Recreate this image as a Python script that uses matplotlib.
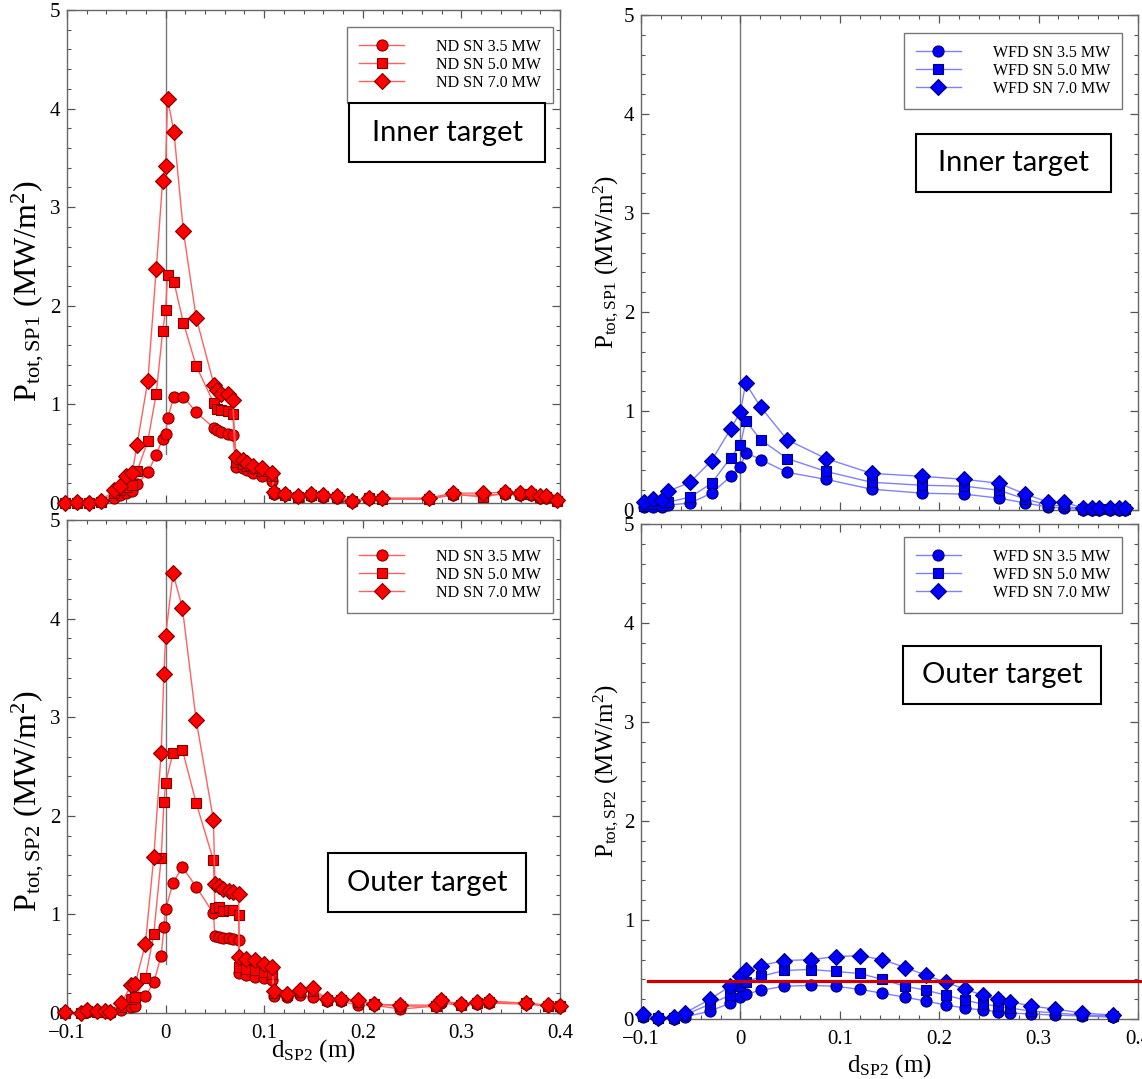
import matplotlib
matplotlib.use("Agg")
import matplotlib.pyplot as plt
from matplotlib.patches import Rectangle
from matplotlib.ticker import MultipleLocator

plt.rcParams['font.family'] = ['Liberation Serif', 'DejaVu Serif']
plt.rcParams['mathtext.fontset'] = 'custom'
plt.rcParams['mathtext.rm'] = 'Liberation Serif'
plt.rcParams['mathtext.it'] = 'Liberation Serif:italic'

# ---------------- data ----------------
# ND SN, inner target
nd_in_x = [-0.102, -0.090, -0.078, -0.066, -0.052, -0.046, -0.040, -0.034, -0.029, -0.018,
           -0.0095, -0.003, 0.0, 0.002, 0.0085, 0.018, 0.031, 0.049, 0.0526, 0.0564,
           0.063, 0.068, 0.0714, 0.078, 0.083, 0.089, 0.098, 0.108, 0.110, 0.121,
           0.134, 0.147, 0.160, 0.174, 0.189, 0.206, 0.219, 0.267, 0.291, 0.322,
           0.344, 0.359, 0.371, 0.380, 0.386, 0.397]
nd_in_35 = [0.00, 0.00, 0.00, 0.01, 0.05, 0.08, 0.10, 0.12, 0.19, 0.31,
            0.49, 0.65, 0.70, 0.86, 1.08, 1.08, 0.92, 0.76, 0.74, 0.72,
            0.70, 0.69, 0.37, 0.35, 0.33, 0.30, 0.27, 0.22, 0.09, 0.08,
            0.06, 0.07, 0.06, 0.05, 0.01, 0.04, 0.04, 0.04, 0.08, 0.08,
            0.09, 0.08, 0.08, 0.05, 0.05, 0.02]
nd_in_50 = [0.00, 0.00, 0.00, 0.01, 0.10, 0.13, 0.16, 0.18, 0.32, 0.63,
            1.11, 1.74, 1.96, 2.31, 2.24, 1.83, 1.39, 1.01, 0.95, 0.94,
            0.93, 0.90, 0.42, 0.40, 0.38, 0.35, 0.32, 0.27, 0.10, 0.08,
            0.06, 0.08, 0.07, 0.06, 0.02, 0.05, 0.04, 0.04, 0.09, 0.06,
            0.10, 0.09, 0.09, 0.06, 0.06, 0.02]
nd_in_70 = [0.00, 0.01, 0.00, 0.02, 0.13, 0.17, 0.27, 0.30, 0.59, 1.24,
            2.37, 3.27, 3.42, 4.10, 3.76, 2.76, 1.88, 1.20, 1.15, 1.11,
            1.11, 1.04, 0.47, 0.44, 0.41, 0.38, 0.35, 0.30, 0.11, 0.09,
            0.07, 0.09, 0.08, 0.07, 0.02, 0.05, 0.05, 0.05, 0.10, 0.10,
            0.11, 0.10, 0.10, 0.07, 0.07, 0.03]

# ND SN, outer target
nd_out_x = [-0.102, -0.086, -0.080, -0.070, -0.061, -0.056, -0.045, -0.035, -0.031, -0.0205,
            -0.012, -0.0045, -0.0017, 0.0, 0.0075, 0.017, 0.031, 0.0485, 0.050, 0.0546,
            0.0587, 0.0639, 0.068, 0.074, 0.0748, 0.0816, 0.0905, 0.0997, 0.108, 0.110,
            0.123, 0.136, 0.149, 0.164, 0.178, 0.195, 0.211, 0.238, 0.274, 0.279,
            0.2995, 0.316, 0.3276, 0.366, 0.388, 0.400]
nd_out_35 = [0.00, 0.00, 0.01, 0.01, 0.01, 0.00, 0.03, 0.06, 0.07, 0.17,
             0.31, 0.58, 0.87, 1.05, 1.32, 1.48, 1.28, 1.01, 0.78, 0.77,
             0.76, 0.76, 0.75, 0.74, 0.41, 0.39, 0.37, 0.36, 0.33, 0.17,
             0.16, 0.18, 0.16, 0.12, 0.12, 0.08, 0.08, 0.04, 0.07, 0.10,
             0.08, 0.09, 0.10, 0.09, 0.07, 0.06]
nd_out_50 = [0.00, 0.00, 0.02, 0.01, 0.01, 0.01, 0.06, 0.14, 0.16, 0.35,
             0.80, 1.57, 2.14, 2.33, 2.64, 2.67, 2.13, 1.55, 1.06, 1.07,
             1.03, 1.04, 1.04, 0.99, 0.47, 0.45, 0.44, 0.42, 0.40, 0.20,
             0.18, 0.21, 0.22, 0.13, 0.13, 0.11, 0.09, 0.07, 0.07, 0.12,
             0.08, 0.10, 0.11, 0.10, 0.07, 0.07]
nd_out_70 = [0.01, 0.00, 0.03, 0.02, 0.02, 0.01, 0.10, 0.28, 0.29, 0.70,
             1.58, 2.64, 3.44, 3.82, 4.46, 4.11, 2.97, 1.96, 1.31, 1.29,
             1.26, 1.24, 1.23, 1.21, 0.57, 0.55, 0.54, 0.50, 0.47, 0.22,
             0.19, 0.23, 0.25, 0.14, 0.14, 0.13, 0.09, 0.08, 0.08, 0.13,
             0.09, 0.11, 0.12, 0.10, 0.08, 0.07]

# WFD SN, inner target
wfd_in_x = [-0.097, -0.088, -0.079, -0.0727, -0.0506, -0.029, -0.0097, 0.0, 0.0053, 0.0204,
            0.047, 0.086, 0.132, 0.183, 0.2254, 0.26, 0.2868, 0.3095, 0.3253, 0.345,
            0.354, 0.361, 0.372, 0.381, 0.387]
wfd_in_35 = [0.03, 0.03, 0.03, 0.05, 0.07, 0.17, 0.34, 0.43, 0.58, 0.51,
             0.38, 0.31, 0.21, 0.17, 0.16, 0.12, 0.07, 0.03, 0.02, 0.00,
             0.00, 0.00, 0.00, 0.00, 0.00]
wfd_in_50 = [0.04, 0.06, 0.05, 0.08, 0.13, 0.27, 0.53, 0.66, 0.90, 0.71,
             0.52, 0.39, 0.28, 0.25, 0.24, 0.20, 0.11, 0.05, 0.04, 0.01,
             0.01, 0.01, 0.01, 0.01, 0.01]
wfd_in_70 = [0.08, 0.11, 0.10, 0.19, 0.28, 0.50, 0.82, 0.99, 1.28, 1.04,
             0.71, 0.52, 0.37, 0.34, 0.31, 0.27, 0.16, 0.08, 0.08, 0.02,
             0.02, 0.02, 0.02, 0.02, 0.02]

# WFD SN, outer target
wfd_out_x = [-0.098, -0.083, -0.0673, -0.056, -0.0305, -0.0104, 0.0, 0.0053, 0.0204, 0.0439,
             0.0707, 0.0958, 0.12, 0.1427, 0.166, 0.187, 0.207, 0.2264, 0.244, 0.259,
             0.2717, 0.2925, 0.317, 0.344, 0.3746]
wfd_out_35 = [0.02, 0.00, 0.00, 0.02, 0.08, 0.16, 0.22, 0.25, 0.29, 0.33,
              0.34, 0.33, 0.30, 0.26, 0.22, 0.18, 0.14, 0.11, 0.09, 0.075,
              0.06, 0.05, 0.04, 0.03, 0.02]
wfd_out_50 = [0.03, 0.01, 0.01, 0.04, 0.15, 0.24, 0.33, 0.37, 0.43, 0.49,
              0.50, 0.48, 0.46, 0.40, 0.33, 0.29, 0.24, 0.19, 0.15, 0.13,
              0.11, 0.08, 0.06, 0.04, 0.03]
wfd_out_70 = [0.05, 0.01, 0.02, 0.06, 0.20, 0.33, 0.43, 0.49, 0.54, 0.59,
              0.60, 0.63, 0.64, 0.60, 0.52, 0.44, 0.37, 0.30, 0.24, 0.20,
              0.175, 0.13, 0.10, 0.06, 0.04]

# heat-flux limit shown on the WFD outer target
limit_level = 0.38

powers = ["3.5", "5.0", "7.0"]
markers = ["o", "s", "D"]
marker_sizes = [8.0, 7.5, 8.0]
x_ticks = [-0.1, 0.0, 0.1, 0.2, 0.3, 0.4]
x_tick_labels = ["\u22120.1", "0", "0.1", "0.2", "0.3", "0.4"]
y_ticks = [0, 1, 2, 3, 4, 5]

W, H = 1142, 1079
fig = plt.figure(figsize=(W / 100, H / 100), dpi=100)


def px_axes(left, top, right, bottom):
    return fig.add_axes([left / W, 1 - bottom / H, (right - left) / W, (bottom - top) / H])


def style_axes(ax, show_x, xlabel_y):
    ax.set_xlim(-0.1, 0.4)
    ax.set_ylim(0, 5)
    ax.set_xticks(x_ticks)
    ax.xaxis.set_minor_locator(MultipleLocator(0.02))
    ax.set_yticks(y_ticks)
    ax.yaxis.set_minor_locator(MultipleLocator(0.2))
    ax.tick_params(which='both', direction='in', top=True, right=True, colors='#555555',
                   labelcolor='black')
    ax.tick_params(which='major', length=6, width=0.9)
    ax.tick_params(which='minor', length=3, width=0.8)
    ax.tick_params(axis='y', labelsize=15, pad=5)
    ax.tick_params(axis='x', labelsize=15, pad=8)
    if show_x:
        ax.set_xticklabels(x_tick_labels)
        ax.set_xlabel(r"d$_{\mathrm{SP2}}$ (m)", fontsize=18, va='center')
        ax.xaxis.set_label_coords(0.5, xlabel_y)
    else:
        ax.set_xticklabels([])
    for s in ax.spines.values():
        s.set_color('#666666')
        s.set_linewidth(1.0)


def draw_series(ax, x, ys, prefix, face, edge, line):
    for y, p, m, ms in zip(ys, powers, markers, marker_sizes):
        ax.plot(x, y, color=line, lw=1.0, marker=m, ms=ms, mfc=face, mec=edge, mew=0.8,
                label=f"{prefix} SN {p} MW", clip_on=False, zorder=3)


def add_legend(ax, xa, ya):
    leg = ax.legend(loc='upper right', bbox_to_anchor=(xa, ya), borderaxespad=0,
                    fontsize=11.5, handlelength=2.8, handletextpad=2.0, labelspacing=0.12,
                    borderpad=0.75, fancybox=False, framealpha=1, edgecolor='#777777',
                    numpoints=1)
    leg.get_frame().set_linewidth(1.0)


def add_box(left, top, right, bottom, text):
    fig.patches.append(Rectangle((left / W, 1 - bottom / H), (right - left) / W,
                                 (bottom - top) / H, transform=fig.transFigure,
                                 fill=True, facecolor='white', edgecolor='black', lw=1.5,
                                 zorder=10))
    fig.text((left + right) / 2 / W, 1 - (top + bottom) / 2 / H, text, ha='center',
             va='center', fontsize=21, family='Lato', zorder=11)


RED = dict(face='#ff0000', edge='#800000', line='#ff6060')
BLUE = dict(face='#0000ff', edge='#000070', line='#8080ff')

ax_tl = px_axes(67, 10, 560, 503)
ax_bl = px_axes(67, 520, 560, 1013)
ax_tr = px_axes(641, 15, 1138, 510)
ax_br = px_axes(641, 524, 1138, 1019)

draw_series(ax_tl, nd_in_x, [nd_in_35, nd_in_50, nd_in_70], "ND", **RED)
draw_series(ax_bl, nd_out_x, [nd_out_35, nd_out_50, nd_out_70], "ND", **RED)
draw_series(ax_tr, wfd_in_x, [wfd_in_35, wfd_in_50, wfd_in_70], "WFD", **BLUE)
draw_series(ax_br, wfd_out_x, [wfd_out_35, wfd_out_50, wfd_out_70], "WFD", **BLUE)

# separatrix position
ax_tl.axvline(0, ymin=0.1, ymax=1, color='#777777', lw=1.0, zorder=1)
ax_bl.axvline(0, ymin=0.1, ymax=1, color='#777777', lw=1.0, zorder=1)
ax_tr.axvline(0, color='#777777', lw=1.0, zorder=1)
ax_br.axvline(0, color='#777777', lw=1.0, zorder=1)

ax_br.plot([-0.093, 0.405], [limit_level, limit_level], color='#cc0000', lw=2.3,
           clip_on=False, zorder=4)

style_axes(ax_tl, False, None)
style_axes(ax_bl, True, -0.077)
style_axes(ax_tr, False, None)
style_axes(ax_br, True, -0.095)

ax_tl.set_ylabel(r"P$_{\mathrm{tot,SP1}}$ (MW/m$^2$)", fontsize=23, va='center')
ax_bl.set_ylabel(r"P$_{\mathrm{tot,SP2}}$ (MW/m$^2$)", fontsize=23, va='center')
ax_tr.set_ylabel(r"P$_{\mathrm{tot,SP1}}$ (MW/m$^2$)", fontsize=18, va='center')
ax_br.set_ylabel(r"P$_{\mathrm{tot,SP2}}$ (MW/m$^2$)", fontsize=18, va='center')
ax_tl.yaxis.set_label_coords(-0.08, 0.43)
ax_bl.yaxis.set_label_coords(-0.08, 0.43)
ax_tr.yaxis.set_label_coords(-0.070, 0.50)
ax_br.yaxis.set_label_coords(-0.070, 0.50)

add_legend(ax_tl, 0.986, 0.9655)
add_legend(ax_bl, 0.986, 0.9655)
add_legend(ax_tr, 0.968, 0.9636)
add_legend(ax_br, 0.968, 0.974)

add_box(349, 103, 545, 162, "Inner target")
add_box(916, 134, 1111, 192, "Inner target")
add_box(328, 853, 526, 912, "Outer target")
add_box(903, 646, 1101, 704, "Outer target")

fig.savefig("out.png", dpi=100)
